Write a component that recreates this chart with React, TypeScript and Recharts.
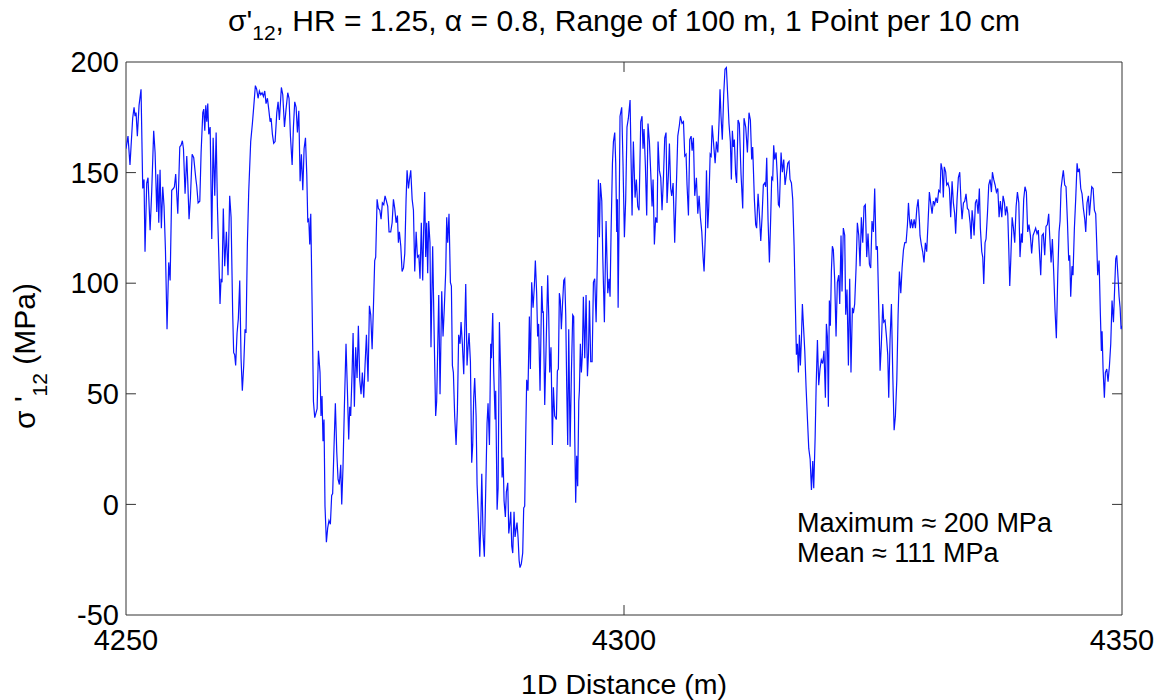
import React from "react";
import { LineChart, Line, XAxis, YAxis, ReferenceArea, ReferenceLine } from "recharts";

// [distance (m), sigma'12 (MPa)], one array per 10 m stretch
const seg4250: [number, number][] = [
  [4250.0, 160.8], [4250.2, 166.5], [4250.4, 153.4], [4250.67, 174.6], [4250.81, 179.5], [4250.91, 175.5],
  [4251.01, 177.1], [4251.14, 166.5], [4251.31, 180.4], [4251.51, 187.7], [4251.68, 142.8], [4251.81, 146.9],
  [4251.91, 114.2], [4252.08, 145.3], [4252.21, 147.7], [4252.42, 124.0], [4252.58, 141.2], [4252.78, 168.9],
  [4252.92, 159.1], [4253.09, 132.2], [4253.19, 149.3], [4253.29, 127.3], [4253.42, 151.3], [4253.55, 124.9],
  [4253.69, 143.6], [4253.82, 134.7], [4253.96, 115.1], [4254.12, 79.2], [4254.29, 109.4], [4254.43, 101.2],
  [4254.59, 142.0], [4254.76, 142.8], [4254.86, 143.6], [4254.99, 149.3], [4255.2, 131.4], [4255.4, 161.6],
  [4255.53, 162.4], [4255.66, 164.4], [4255.77, 160.8], [4255.93, 140.4], [4256.1, 157.5], [4256.2, 146.1],
  [4256.33, 128.9], [4256.47, 138.7], [4256.64, 158.3], [4256.8, 156.7], [4257.0, 147.7], [4257.11, 143.6],
  [4257.24, 136.3], [4257.41, 137.1], [4257.54, 159.1], [4257.71, 177.1], [4257.81, 178.7], [4257.91, 168.9],
  [4258.01, 180.4], [4258.11, 173.0], [4258.21, 181.2], [4258.31, 167.3], [4258.45, 170.6], [4258.61, 120.0],
  [4258.75, 165.7], [4258.91, 139.5], [4259.05, 168.1], [4259.18, 134.7], [4259.32, 111.8],
];

const seg4260: [number, number][] = [
  [4259.44, 90.6], [4259.54, 102.0], [4259.64, 100.4], [4259.77, 133.8], [4259.91, 107.7], [4260.08, 123.2],
  [4260.24, 103.6], [4260.41, 139.5], [4260.55, 129.8], [4260.71, 86.5], [4260.81, 68.6], [4260.91, 67.7],
  [4261.01, 62.8], [4261.15, 77.5], [4261.28, 84.0], [4261.42, 101.2], [4261.55, 66.1], [4261.68, 51.4],
  [4261.82, 62.8], [4261.95, 79.2], [4262.05, 77.5], [4262.19, 118.3], [4262.32, 141.2], [4262.52, 164.0],
  [4262.69, 172.2], [4262.82, 179.5], [4262.99, 189.3], [4263.12, 187.7], [4263.26, 183.6], [4263.39, 186.9],
  [4263.53, 185.2], [4263.66, 186.1], [4263.8, 184.4], [4263.93, 186.9], [4264.06, 181.2], [4264.2, 183.6],
  [4264.33, 178.7], [4264.47, 173.0], [4264.57, 174.6], [4264.7, 167.3], [4264.83, 163.2], [4264.97, 164.0],
  [4265.14, 177.1], [4265.27, 182.0], [4265.4, 173.8], [4265.6, 188.5], [4265.74, 185.2], [4265.91, 170.6],
  [4266.07, 178.7], [4266.24, 186.1], [4266.37, 183.6], [4266.51, 166.5], [4266.68, 153.4], [4266.81, 170.6],
  [4266.94, 182.0], [4267.08, 179.5], [4267.21, 168.1], [4267.35, 177.9], [4267.48, 146.1], [4267.61, 158.3],
  [4267.75, 142.0], [4267.88, 160.8], [4268.02, 165.7], [4268.15, 149.3], [4268.25, 128.1], [4268.35, 128.9],
  [4268.45, 117.5], [4268.55, 131.4], [4268.69, 88.9], [4268.82, 46.5], [4268.95, 39.2], [4269.09, 41.6],
  [4269.19, 43.3], [4269.32, 69.4],
];

const seg4270: [number, number][] = [
  [4269.48, 59.6], [4269.58, 40.0], [4269.68, 49.0], [4269.78, 28.6], [4269.88, 38.4], [4269.98, -0.8],
  [4270.12, -17.1], [4270.25, -10.6], [4270.38, -7.3], [4270.52, -9.0], [4270.65, 4.1], [4270.75, 4.9],
  [4270.89, 26.9], [4271.02, 45.7], [4271.16, 23.7], [4271.29, 11.4], [4271.42, 9.0], [4271.56, 17.9],
  [4271.66, 0.0], [4271.79, 17.1], [4271.93, 44.9], [4272.09, 72.6], [4272.23, 51.4], [4272.36, 29.4],
  [4272.46, 44.1], [4272.56, 40.0], [4272.7, 59.6], [4272.8, 77.5], [4272.93, 44.1], [4273.06, 71.0],
  [4273.2, 57.1], [4273.33, 80.8], [4273.47, 56.3], [4273.6, 49.8], [4273.73, 59.6], [4273.87, 48.2],
  [4274.0, 62.8], [4274.14, 76.7], [4274.3, 55.5], [4274.44, 89.8], [4274.57, 85.7], [4274.71, 70.2],
  [4274.84, 88.9], [4274.97, 110.2], [4275.07, 111.8], [4275.21, 137.9], [4275.34, 133.8], [4275.48, 133.0],
  [4275.61, 128.9], [4275.74, 136.3], [4275.88, 135.5], [4276.01, 139.5], [4276.15, 137.1], [4276.28, 134.7],
  [4276.41, 123.2], [4276.58, 123.2], [4276.72, 127.3], [4276.85, 137.9], [4276.98, 133.8], [4277.12, 127.3],
  [4277.25, 130.6], [4277.35, 118.3], [4277.45, 123.2], [4277.59, 116.7], [4277.72, 105.3], [4277.86, 106.9],
  [4277.99, 113.4], [4278.12, 137.9], [4278.22, 151.0], [4278.36, 142.8], [4278.46, 146.9], [4278.59, 151.0],
  [4278.73, 137.9], [4278.86, 133.0], [4278.99, 105.3], [4279.13, 123.2], [4279.26, 111.8], [4279.4, 112.6],
];

const seg4280: [number, number][] = [
  [4279.52, 102.0], [4279.65, 127.3], [4279.79, 101.2], [4279.89, 124.9], [4279.99, 141.2], [4280.09, 111.8],
  [4280.19, 127.3], [4280.29, 104.5], [4280.39, 128.1], [4280.52, 118.3], [4280.62, 71.0], [4280.79, 116.7],
  [4280.93, 79.2], [4281.09, 40.0], [4281.19, 46.5], [4281.29, 69.4], [4281.4, 94.7], [4281.53, 49.8],
  [4281.7, 96.3], [4281.83, 75.9], [4281.96, 88.9], [4282.1, 105.3], [4282.2, 129.8], [4282.3, 118.3],
  [4282.43, 131.4], [4282.57, 100.4], [4282.67, 98.7], [4282.77, 62.8], [4282.87, 59.6], [4283.0, 40.0],
  [4283.14, 26.9], [4283.27, 42.4], [4283.4, 76.7], [4283.54, 72.6], [4283.64, 82.4], [4283.77, 72.6],
  [4283.91, 58.8], [4284.01, 79.2], [4284.11, 99.6], [4284.24, 62.8], [4284.34, 71.0], [4284.44, 77.5],
  [4284.58, 64.5], [4284.71, 18.8], [4284.81, 26.9], [4284.91, 48.2], [4285.01, 57.1], [4285.15, 40.0],
  [4285.25, 9.0], [4285.38, -5.7], [4285.52, -23.7], [4285.62, -9.0], [4285.72, 13.9], [4285.85, -13.9],
  [4285.98, -23.7], [4286.12, 7.3], [4286.25, 36.7], [4286.35, 45.7], [4286.49, 26.9], [4286.62, 72.6],
  [4286.69, 66.1], [4286.82, 86.5], [4286.92, 59.6], [4287.06, 38.4], [4287.12, 51.4], [4287.26, -2.4],
  [4287.36, 7.3], [4287.49, 82.4], [4287.63, 56.3], [4287.76, 12.2], [4287.86, 21.2], [4287.96, 1.6],
  [4288.09, -5.7], [4288.19, 5.7], [4288.33, 9.8], [4288.43, -13.1], [4288.53, -9.0], [4288.63, -3.3],
  [4288.73, -18.8], [4288.83, -22.0], [4288.96, -3.3], [4289.06, -14.7], [4289.16, -11.4], [4289.26, -8.2],
  [4289.37, -15.5], [4289.47, -25.3],
];

const seg4290: [number, number][] = [
  [4289.56, -28.6], [4289.69, -26.9], [4289.83, -22.0], [4289.93, -1.6], [4290.03, -0.8], [4290.13, 30.2],
  [4290.23, 56.3], [4290.36, 51.4], [4290.5, 84.9], [4290.6, 61.2], [4290.73, 100.4], [4290.87, 88.9],
  [4291.0, 98.7], [4291.1, 110.2], [4291.23, 95.5], [4291.33, 75.9], [4291.43, 81.6], [4291.57, 51.4],
  [4291.74, 98.7], [4291.84, 86.5], [4291.9, 87.3], [4292.04, 44.9], [4292.17, 69.4], [4292.34, 103.6],
  [4292.44, 85.7], [4292.54, 59.6], [4292.67, 71.0], [4292.81, 26.9], [4292.91, 53.0], [4293.04, 40.0],
  [4293.21, 38.4], [4293.31, 60.4], [4293.41, 61.2], [4293.51, 95.5], [4293.61, 92.2], [4293.71, 79.2],
  [4293.81, 88.9], [4293.95, 101.2], [4294.05, 102.0], [4294.15, 85.7], [4294.25, 53.0], [4294.35, 26.9],
  [4294.45, 79.2], [4294.59, 26.1], [4294.72, 59.6], [4294.85, 85.7], [4294.95, 84.9], [4295.05, 31.9],
  [4295.15, 0.8], [4295.25, 22.0], [4295.35, 8.2], [4295.46, 46.5], [4295.52, 51.4], [4295.62, 72.6],
  [4295.72, 59.6], [4295.82, 67.7], [4295.92, 93.9], [4296.06, 66.1], [4296.19, 94.7], [4296.33, 57.9],
  [4296.43, 67.7], [4296.53, 92.2], [4296.66, 64.5], [4296.8, 64.5], [4296.93, 100.4], [4297.06, 102.0],
  [4297.2, 82.4], [4297.33, 111.8], [4297.43, 146.9], [4297.53, 120.8], [4297.63, 145.3], [4297.77, 137.1],
  [4297.87, 111.8], [4298.03, 82.4], [4298.2, 128.1], [4298.37, 95.5], [4298.5, 102.0], [4298.6, 93.9],
  [4298.7, 122.4], [4298.84, 154.2], [4298.94, 164.0], [4299.07, 168.1], [4299.17, 154.2], [4299.27, 123.2],
  [4299.34, 137.9], [4299.41, 88.9], [4299.51, 129.8],
];

const seg4300: [number, number][] = [
  [4299.6, 175.5], [4299.77, 179.5], [4299.9, 154.2], [4300.04, 120.8], [4300.17, 137.9], [4300.3, 170.6],
  [4300.44, 174.6], [4300.61, 182.8], [4300.71, 155.9], [4300.81, 130.6], [4300.94, 164.0], [4301.11, 138.7],
  [4301.24, 146.9], [4301.38, 134.7], [4301.51, 133.0], [4301.68, 173.0], [4301.81, 175.5], [4301.91, 160.8],
  [4302.01, 169.7], [4302.15, 152.6], [4302.28, 130.6], [4302.41, 172.2], [4302.55, 164.0], [4302.72, 146.1],
  [4302.82, 134.7], [4302.92, 146.9], [4303.05, 117.5], [4303.18, 129.8], [4303.32, 127.3], [4303.42, 164.0],
  [4303.55, 151.0], [4303.69, 147.7], [4303.82, 133.0], [4303.96, 147.7], [4304.09, 165.7], [4304.22, 168.1],
  [4304.32, 136.3], [4304.46, 149.3], [4304.56, 163.2], [4304.69, 142.8], [4304.79, 139.5], [4304.93, 145.3],
  [4305.09, 118.3], [4305.23, 139.5], [4305.4, 166.5], [4305.56, 171.4], [4305.66, 175.5], [4305.83, 172.2],
  [4305.97, 173.0], [4306.1, 157.5], [4306.23, 158.3], [4306.33, 144.4], [4306.47, 130.6], [4306.6, 164.9],
  [4306.74, 166.5], [4306.84, 159.9], [4306.97, 165.7], [4307.1, 139.5], [4307.27, 147.7], [4307.41, 131.4],
  [4307.54, 139.5], [4307.67, 129.8], [4307.81, 123.2], [4307.94, 111.8], [4308.04, 105.3], [4308.18, 123.2],
  [4308.28, 151.0], [4308.41, 124.9], [4308.51, 134.7], [4308.65, 158.3], [4308.75, 157.5], [4308.85, 171.4],
  [4308.98, 164.0], [4309.15, 154.2], [4309.28, 164.0], [4309.42, 159.1], [4309.55, 173.8],
];

const seg4310: [number, number][] = [
  [4309.64, 187.7], [4309.74, 175.5], [4309.87, 164.9], [4310.01, 185.2], [4310.14, 196.7], [4310.28, 197.5],
  [4310.41, 185.2], [4310.54, 172.2], [4310.68, 164.0], [4310.78, 146.9], [4310.88, 168.9], [4310.98, 161.6],
  [4311.08, 164.9], [4311.21, 149.3], [4311.31, 145.3], [4311.45, 173.8], [4311.58, 172.2], [4311.75, 149.3],
  [4311.92, 133.8], [4312.05, 174.6], [4312.22, 170.6], [4312.39, 159.1], [4312.55, 177.1], [4312.69, 173.8],
  [4312.82, 155.9], [4312.92, 161.6], [4313.09, 137.9], [4313.22, 126.5], [4313.32, 124.9], [4313.46, 140.4],
  [4313.59, 131.4], [4313.73, 119.1], [4313.86, 129.8], [4313.99, 144.4], [4314.13, 145.3], [4314.23, 143.6],
  [4314.33, 156.7], [4314.46, 128.9], [4314.6, 109.4], [4314.73, 129.8], [4314.83, 147.7], [4314.93, 146.9],
  [4315.03, 162.4], [4315.13, 155.9], [4315.27, 159.1], [4315.4, 147.7], [4315.5, 135.5], [4315.6, 134.7],
  [4315.77, 159.1], [4315.9, 150.2], [4316.04, 155.9], [4316.17, 144.4], [4316.31, 149.3], [4316.44, 154.2],
  [4316.57, 155.0], [4316.67, 146.9], [4316.81, 145.3], [4316.94, 137.9], [4317.08, 116.7], [4317.21, 88.9],
  [4317.31, 67.7], [4317.41, 72.6], [4317.51, 59.6], [4317.61, 76.7], [4317.71, 62.8], [4317.81, 74.3],
  [4317.91, 90.6], [4318.02, 80.8], [4318.15, 69.4], [4318.28, 53.0], [4318.42, 38.4], [4318.55, 25.3],
  [4318.69, 20.4], [4318.82, 6.5], [4318.95, 19.6], [4319.05, 7.3], [4319.19, 30.2], [4319.29, 53.0],
  [4319.42, 74.3], [4319.55, 53.9],
];

const seg4320: [number, number][] = [
  [4319.68, 61.2], [4319.81, 65.3], [4319.95, 63.7], [4320.08, 69.4], [4320.22, 48.2], [4320.32, 81.6],
  [4320.42, 75.9], [4320.52, 44.1], [4320.62, 92.2], [4320.72, 80.8], [4320.82, 105.3], [4320.92, 116.7],
  [4321.02, 115.1], [4321.15, 102.0], [4321.29, 75.9], [4321.42, 100.4], [4321.56, 103.6], [4321.66, 90.6],
  [4321.79, 121.6], [4321.89, 96.3], [4322.02, 124.9], [4322.16, 121.6], [4322.26, 85.7], [4322.39, 97.1],
  [4322.53, 62.8], [4322.66, 102.0], [4322.79, 59.6], [4322.93, 88.9], [4323.03, 86.5], [4323.16, 90.6],
  [4323.3, 106.9], [4323.43, 127.3], [4323.57, 121.6], [4323.7, 107.7], [4323.83, 129.8], [4323.97, 118.3],
  [4324.1, 134.7], [4324.23, 135.5], [4324.37, 111.8], [4324.5, 122.4], [4324.64, 108.5], [4324.77, 106.9],
  [4324.9, 128.1], [4325.04, 123.2], [4325.17, 142.8], [4325.31, 115.1], [4325.44, 116.7], [4325.57, 90.6],
  [4325.71, 60.4], [4325.84, 72.6], [4325.98, 90.6], [4326.08, 82.4], [4326.21, 83.2], [4326.35, 75.9],
  [4326.48, 67.7], [4326.58, 48.2], [4326.71, 74.3], [4326.85, 90.6], [4326.98, 59.6], [4327.12, 33.5],
  [4327.25, 40.0], [4327.39, 56.3], [4327.52, 85.7], [4327.65, 105.3], [4327.79, 95.5], [4327.92, 106.9],
  [4328.06, 115.1], [4328.19, 118.3], [4328.32, 118.3], [4328.46, 126.5], [4328.56, 136.3], [4328.66, 128.9],
  [4328.76, 124.9], [4328.86, 128.9], [4328.99, 124.9], [4329.13, 128.9], [4329.26, 124.9], [4329.4, 133.8],
  [4329.53, 137.9], [4329.66, 128.1],
];

const seg4330: [number, number][] = [
  [4329.72, 121.6], [4329.85, 117.5], [4329.99, 114.2], [4330.12, 109.4], [4330.26, 118.3], [4330.39, 114.2],
  [4330.52, 126.5], [4330.66, 141.2], [4330.79, 136.3], [4330.93, 131.4], [4331.06, 137.1], [4331.19, 135.5],
  [4331.33, 138.7], [4331.46, 136.3], [4331.6, 142.0], [4331.73, 141.2], [4331.83, 154.2], [4331.96, 151.0],
  [4332.06, 138.7], [4332.16, 152.6], [4332.3, 150.2], [4332.4, 144.4], [4332.53, 145.3], [4332.67, 142.8],
  [4332.8, 129.8], [4332.94, 146.1], [4333.07, 136.3], [4333.2, 131.4], [4333.3, 122.4], [4333.44, 137.9],
  [4333.57, 147.7], [4333.71, 150.2], [4333.84, 136.3], [4333.94, 128.9], [4334.08, 136.3], [4334.21, 137.1],
  [4334.34, 140.4], [4334.48, 133.8], [4334.61, 133.0], [4334.75, 127.3], [4334.85, 120.0], [4334.95, 133.0],
  [4335.05, 128.1], [4335.15, 121.6], [4335.28, 136.3], [4335.41, 137.9], [4335.55, 131.4], [4335.68, 142.8],
  [4335.78, 124.9], [4335.92, 114.2], [4336.02, 111.8], [4336.12, 99.6], [4336.25, 118.3], [4336.35, 120.0],
  [4336.49, 131.4], [4336.62, 144.4], [4336.76, 146.9], [4336.89, 141.2], [4336.99, 150.2], [4337.12, 146.9],
  [4337.26, 144.4], [4337.39, 141.2], [4337.53, 142.8], [4337.66, 129.8], [4337.79, 137.1], [4337.93, 129.8],
  [4338.06, 139.5], [4338.2, 136.3], [4338.3, 130.6], [4338.43, 134.7], [4338.53, 131.4], [4338.63, 115.9],
  [4338.73, 98.7], [4338.83, 110.2], [4338.97, 129.8], [4339.1, 124.9], [4339.23, 118.3], [4339.37, 134.7],
  [4339.5, 141.2], [4339.64, 136.3],
];

const seg4340: [number, number][] = [
  [4339.76, 111.8], [4339.89, 122.4], [4339.99, 118.3], [4340.13, 137.9], [4340.26, 143.6], [4340.4, 141.2],
  [4340.53, 123.2], [4340.66, 126.5], [4340.8, 121.6], [4340.93, 113.4], [4341.07, 121.6], [4341.2, 123.2],
  [4341.33, 124.9], [4341.47, 122.4], [4341.6, 124.0], [4341.74, 111.8], [4341.84, 103.6], [4341.97, 121.6],
  [4342.1, 122.4], [4342.24, 112.6], [4342.37, 125.7], [4342.51, 126.5], [4342.64, 131.4], [4342.74, 121.6],
  [4342.88, 109.4], [4343.01, 120.0], [4343.14, 105.3], [4343.28, 87.3], [4343.41, 75.1], [4343.55, 103.6],
  [4343.68, 123.2], [4343.78, 128.1], [4343.88, 142.8], [4344.01, 147.7], [4344.11, 151.0], [4344.25, 144.4],
  [4344.38, 143.6], [4344.52, 128.1], [4344.65, 110.2], [4344.75, 112.6], [4344.85, 93.9], [4344.98, 107.7],
  [4345.08, 103.6], [4345.22, 124.9], [4345.35, 137.9], [4345.49, 154.2], [4345.59, 150.2], [4345.72, 151.8],
  [4345.86, 142.8], [4345.99, 140.4], [4346.12, 133.8], [4346.26, 128.9], [4346.36, 123.2], [4346.49, 136.3],
  [4346.63, 139.5], [4346.73, 130.6], [4346.86, 137.9], [4346.96, 143.6], [4347.1, 142.8], [4347.23, 133.0],
  [4347.36, 131.4], [4347.46, 118.3], [4347.56, 103.6], [4347.7, 110.2], [4347.83, 85.7], [4347.93, 69.4],
  [4348.0, 78.3], [4348.1, 61.2], [4348.23, 48.2], [4348.33, 59.6], [4348.47, 61.2], [4348.6, 55.5],
  [4348.74, 62.8], [4348.87, 72.6], [4349.0, 92.2], [4349.14, 82.4], [4349.27, 98.7], [4349.37, 111.0],
  [4349.47, 112.6], [4349.61, 102.0], [4349.71, 93.9], [4349.81, 88.9], [4349.91, 79.2], [4350.0, 80.8],
];

const xTicks = [4250, 4300, 4350];
const yTicks = [-50, 0, 50, 100, 150, 200];
const innerTicks = [0, 50, 100, 150];

const data = [seg4250, seg4260, seg4270, seg4280, seg4290, seg4300, seg4310, seg4320, seg4330, seg4340]
  .flat()
  .map(([d, v]) => ({ d, v }));

const font = "'Liberation Sans', Arial, Helvetica, sans-serif";
const tickStyle = { fontSize: 29, fill: "#000", fontFamily: font };

export default function App() {
  return (
    <div style={{ position: "absolute", left: 0, top: 0, width: 1168, height: 700, background: "#fff" }}>
      <LineChart width={1168} height={700} data={data} margin={{ top: 62, right: 46, bottom: 55, left: 66 }}>
        <XAxis
          type="number"
          dataKey="d"
          domain={[4250, 4350]}
          ticks={xTicks}
          tickLine={false}
          axisLine={false}
          tickSize={0}
          tickMargin={14}
          tick={tickStyle}
          height={30}
          allowDataOverflow
        />
        <YAxis
          type="number"
          domain={[-50, 200]}
          ticks={yTicks}
          tickLine={false}
          axisLine={false}
          tickSize={0}
          tickMargin={7}
          tick={tickStyle}
          width={60}
          allowDataOverflow
        />
        <ReferenceArea x1={4250} x2={4350} y1={-50} y2={200} fill="none" stroke="#333" strokeWidth={1} />
        {innerTicks.map((t) => (
          <ReferenceLine key={"l" + t} segment={[{ x: 4250, y: t }, { x: 4251, y: t }]} stroke="#333" />
        ))}
        {innerTicks.map((t) => (
          <ReferenceLine key={"r" + t} segment={[{ x: 4349, y: t }, { x: 4350, y: t }]} stroke="#333" />
        ))}
        <ReferenceLine segment={[{ x: 4300, y: -50 }, { x: 4300, y: -45.5 }]} stroke="#333" />
        <ReferenceLine segment={[{ x: 4300, y: 200 }, { x: 4300, y: 195.5 }]} stroke="#333" />
        <Line type="linear" dataKey="v" stroke="#0a14ff" strokeWidth={1.2} dot={false} isAnimationActive={false} />
      </LineChart>
      <svg width={1168} height={700} style={{ position: "absolute", left: 0, top: 0, pointerEvents: "none" }}>
        <g fontFamily={font} fill="#000">
          <text x={228} y={31} fontSize={30}>
            σ'<tspan dy={9} fontSize={21}>12</tspan>
            <tspan dy={-9}>, HR = 1.25, α = 0.8, Range of 100 m, 1 Point per 10 cm</tspan>
          </text>
          <text x={624} y={694} fontSize={28.5} textAnchor="middle">1D Distance (m)</text>
          <text transform="translate(35,356) rotate(-90)" fontSize={30} textAnchor="middle">
            σ '<tspan dy={12} fontSize={21}>12</tspan>
            <tspan dy={-12}> (MPa)</tspan>
          </text>
          <text x={797} y={532} fontSize={27}>Maximum ≈ 200 MPa</text>
          <text x={797} y={562} fontSize={27}>Mean ≈ 111 MPa</text>
        </g>
      </svg>
    </div>
  );
}
